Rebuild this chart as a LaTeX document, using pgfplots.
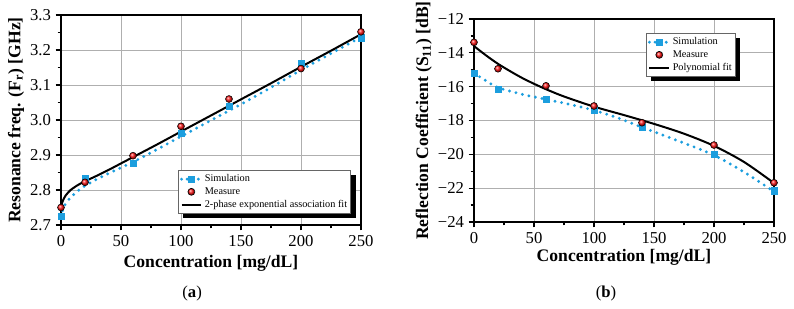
\documentclass[border=0pt]{standalone}
\usepackage{pgfplots}
\pgfplotsset{compat=1.18}
\usepackage{fontspec}
\setmainfont{Liberation Serif}
\definecolor{simblue}{RGB}{28,158,222}
\definecolor{gridgray}{RGB}{175,175,175}
\definecolor{ballred}{RGB}{255,20,20}
\pgfplotsset{
  myax/.style={
    scale only axis, width=225pt,
    xmin=0, xmax=250,
    xtick={0,50,100,150,200,250},
    xticklabels={0,50,100,150,200,250},
    minor x tick num=1, minor y tick num=1,
    tick align=outside, xtick pos=lower, ytick pos=left,
    major tick length=4pt, minor tick length=2.5pt,
    axis line style={line width=1.3pt},
    every tick/.style={black, line width=0.9pt},
    grid=major, major grid style={gridgray, line width=0.7pt},
    tick label style={font=\fontsize{12.5}{14}\selectfont},
    label style={font=\bfseries\fontsize{13.2}{15}\selectfont},
    xlabel={Concentration [mg/dL]},
    legend cell align=left,
    legend style={font=\fontsize{7.7}{9}\selectfont, draw=black!60, line width=0.5pt,
      fill=white, inner sep=1.2pt, row sep=-1.2pt,
      nodes={inner xsep=1.5pt}},
    legend image code/.code={\draw[#1] (0cm,0cm) -- (0.52cm,0cm);},
  },
  simleg/.style={legend image code/.code={
    \draw[simblue, line width=2.4pt, dash pattern=on 0pt off 4.2pt, line cap=round] (0cm,0cm) -- (0.52cm,0cm);
    \fill[simblue] (0.26cm-2.3pt,-2.3pt) rectangle (0.26cm+2.3pt,2.3pt);}},
  measleg/.style={legend image code/.code={
    \shade[ball color=ballred] (0.26cm,0cm) circle (2.6pt);}},
}
\begin{document}
\begin{tikzpicture}
\path[use as bounding box] (0,0) rectangle (595.5pt,-231pt);
% ---------- (a) ----------
\begin{axis}[myax,
  at={(45.75pt,-168.75pt)}, anchor=south west,
  height=157.5pt,
  ymin=2.7, ymax=3.3,
  ytick={2.7,2.8,2.9,3.0,3.1,3.2,3.3},
  yticklabels={2.7,2.8,2.9,3.0,3.1,3.2,3.3},
  xlabel style={at={(axis description cs:0.5,-0.181)}, anchor=center},
  ylabel={Resonance freq. (F\textsubscript{r}) [GHz]},
  ylabel style={at={(axis description cs:-0.15,0.5)}, anchor=center},
  legend style={at={(axis description cs:0.39,0.262)}, anchor=north west, name=legA},
  clip=false,
]
\addplot[simblue, line width=2.4pt, dash pattern=on 0pt off 5pt, line cap=round, smooth, forget plot]
 coordinates {(0,2.722)(1,2.738)(2,2.748)(4,2.762)(7,2.775)(10,2.785)(15,2.800)(20,2.812)(30,2.831)(40,2.848)(60,2.880)(80,2.916)(100,2.953)(125,2.999)(150,3.045)(175,3.093)(200,3.143)(225,3.190)(250,3.237)};
\addplot[simleg, only marks, mark=square*, mark size=2.3pt, color=simblue]
 coordinates {(0,2.725)(20,2.832)(60,2.876)(100,2.963)(140,3.040)(200,3.163)(250,3.235)};
\addlegendentry{Simulation}
\addplot[measleg, only marks, mark=ball, ball color=ballred, mark size=2.6pt]
 coordinates {(0,2.750)(20,2.822)(60,2.898)(100,2.982)(140,3.060)(200,3.147)(250,3.252)};
\addlegendentry{Measure}
\addplot[black, line width=1.5pt, smooth]
 coordinates {(0,2.752)(1,2.764)(2,2.773)(4,2.785)(6,2.793)(8,2.800)(10,2.805)(13,2.812)(16,2.818)(20,2.825)(25,2.833)(30,2.841)(40,2.858)(50,2.876)(60,2.894)(80,2.930)(100,2.967)(125,3.013)(150,3.059)(175,3.105)(200,3.152)(225,3.198)(250,3.245)};
\addlegendentry{2-phase exponential association fit}
\node[font=\fontsize{12.5}{14}\selectfont] at (axis description cs:0.437,-0.324) {(\textbf{a})};
\end{axis}
\fill[black] ([yshift=-3.5pt]legA.north east) rectangle ([shift={(3.5pt,-3.5pt)}]legA.south east);
\fill[black] ([xshift=3.5pt]legA.south west) rectangle ([shift={(3.5pt,-3.5pt)}]legA.south east);
% ---------- (b) ----------
\begin{axis}[myax,
  at={(355.5pt,-166.5pt)}, anchor=south west,
  height=152.25pt,
  ymin=-24, ymax=-12,
  ytick={-24,-22,-20,-18,-16,-14,-12},
  yticklabels={−24,−22,−20,−18,−16,−14,−12},
  xlabel style={at={(axis description cs:0.5,-0.172)}, anchor=center},
  ylabel={Reflection Coefficient (S\textsubscript{11}) [dB]},
  ylabel style={at={(axis description cs:-0.167,0.5)}, anchor=center},
  legend style={at={(axis description cs:0.573,0.931)}, anchor=north west, name=legB},
  clip=false,
]
\addplot[simblue, line width=2.4pt, dash pattern=on 0pt off 5pt, line cap=round, smooth, forget plot]
 coordinates {(0,-15.2)(10,-15.65)(20,-16.05)(40,-16.45)(60,-16.75)(80,-17.05)(100,-17.4)(120,-17.85)(140,-18.4)(170,-19.2)(200,-20.05)(225,-21.05)(250,-22.2)};
\addplot[simleg, only marks, mark=square*, mark size=2.3pt, color=simblue]
 coordinates {(0,-15.2)(20,-16.15)(60,-16.72)(100,-17.37)(140,-18.42)(200,-20.0)(250,-22.15)};
\addlegendentry{Simulation}
\addplot[measleg, only marks, mark=ball, ball color=ballred, mark size=2.6pt]
 coordinates {(0,-13.38)(20,-14.94)(60,-15.95)(100,-17.14)(140,-18.13)(200,-19.45)(250,-21.68)};
\addlegendentry{Measure}
\addplot[black, line width=1.5pt, smooth]
 coordinates {(0,-13.6)(10,-14.15)(20,-14.65)(30,-15.08)(40,-15.48)(50,-15.83)(60,-16.15)(75,-16.58)(100,-17.18)(125,-17.68)(150,-18.2)(175,-18.78)(200,-19.5)(225,-20.45)(250,-21.7)};
\addlegendentry{Polynomial fit}
\node[font=\fontsize{12.5}{14}\selectfont] at (axis description cs:0.44,-0.35) {(\textbf{b})};
\end{axis}
\fill[black] ([yshift=-3.5pt]legB.north east) rectangle ([shift={(3.5pt,-3.5pt)}]legB.south east);
\fill[black] ([xshift=3.5pt]legB.south west) rectangle ([shift={(3.5pt,-3.5pt)}]legB.south east);
\end{tikzpicture}
\end{document}
